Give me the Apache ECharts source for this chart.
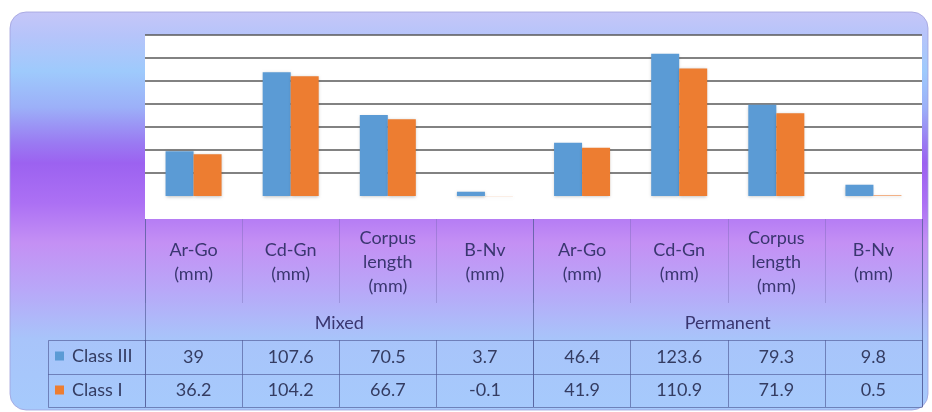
<!DOCTYPE html>
<html>
<head>
<meta charset="utf-8">
<title>Mandibular measurements</title>
<script src="https://cdn.jsdelivr.net/npm/echarts@6/dist/echarts.min.js"></script>
<style>
  html, body { margin: 0; padding: 0; background: #ffffff; }
  #chart { width: 932px; height: 412px; }
</style>
</head>
<body>
<div id="chart"></div>
<script>
// Measurements per dentition stage
const categories = [
  'Ar-Go\n(mm)', 'Cd-Gn\n(mm)', 'Corpus\nlength\n(mm)', 'B-Nv\n(mm)',
  'Ar-Go\n(mm)', 'Cd-Gn\n(mm)', 'Corpus\nlength\n(mm)', 'B-Nv\n(mm)'
];
const groups = ['Mixed', 'Permanent'];
const seriesNames = ['Class III', 'Class I'];
const classIII = [39, 107.6, 70.5, 3.7, 46.4, 123.6, 79.3, 9.8];
const classI = [36.2, 104.2, 66.7, -0.1, 41.9, 110.9, 71.9, 0.5];
const yTicks = { min: -20, max: 140, step: 20 };

// Layout of the plot and the data table below it
const plot = { left: 145, right: 922, top: 35, bottom: 219 };
const rowLine1 = 340, rowLine2 = 374, tableBottom = 407, legendLeft = 48;

const blue = '#5b9bd5';
const orange = '#ed7d31';
const headerColor = '#3a3670';
const valueColor = '#343c62';
const tableLine = 'rgba(80,90,150,0.65)';
const fontFamily = 'Lato, "Open Sans", sans-serif';
const fontSize = 18;

const chart = echarts.init(document.getElementById('chart'));

// grid lines: hide the ones at -20 and 0, draw the rest
const gridColors = [];
for (let v = yTicks.min; v <= yTicks.max; v += yTicks.step) {
  gridColors.push(v <= 0 ? 'rgba(0,0,0,0)' : '#585858');
}

const offsetOf = y => y - plot.bottom;

const option = {
  animation: false,
  graphic: [
    {
      type: 'rect',
      z: -100,
      silent: true,
      shape: { x: 10, y: 12, width: 918, height: 398, r: 16 },
      style: {
        fill: new echarts.graphic.LinearGradient(0, 0, 0, 1, [
          { offset: 0.00, color: '#c6c6f8' },
          { offset: 0.06, color: '#b6c4fa' },
          { offset: 0.15, color: '#9ecafc' },
          { offset: 0.24, color: '#9cb0f8' },
          { offset: 0.33, color: '#9a7af2' },
          { offset: 0.38, color: '#9c62f0' },
          { offset: 0.48, color: '#ac70f4' },
          { offset: 0.58, color: '#c490f4' },
          { offset: 0.70, color: '#b8a8f8' },
          { offset: 0.82, color: '#a8c4fa' },
          { offset: 1.00, color: '#a6cafc' }
        ]),
        stroke: 'rgba(160,160,220,0.8)',
        lineWidth: 1
      }
    },
    // legend cell borders to the left of the data rows
    {
      type: 'polyline',
      z: 50,
      silent: true,
      shape: { points: [[plot.left, rowLine1 + 0.5], [legendLeft + 0.5, rowLine1 + 0.5], [legendLeft + 0.5, tableBottom + 0.5], [plot.left, tableBottom + 0.5]] },
      style: { stroke: tableLine, lineWidth: 1, fill: null }
    },
    {
      type: 'line',
      z: 50,
      silent: true,
      shape: { x1: legendLeft, y1: rowLine2 + 0.5, x2: plot.left, y2: rowLine2 + 0.5 },
      style: { stroke: tableLine, lineWidth: 1 }
    }
  ],
  grid: {
    left: plot.left,
    top: plot.top,
    width: plot.right - plot.left,
    height: plot.bottom - plot.top,
    show: true,
    backgroundColor: '#ffffff',
    borderWidth: 0
  },
  legend: {
    orient: 'vertical',
    left: 55,
    top: 346,
    padding: 0,
    itemWidth: 9,
    itemHeight: 9,
    itemGap: 14,
    icon: 'rect',
    data: seriesNames,
    textStyle: { fontFamily, fontSize, color: valueColor, lineHeight: 20, padding: [0, 0, 0, 3] }
  },
  xAxis: [
    {
      // header row: measurement names
      type: 'category',
      data: categories,
      axisLine: { show: false, onZero: false },
      axisTick: { show: true, length: 84, lineStyle: { color: 'rgba(110,100,170,0.35)', width: 1 } },
      axisLabel: {
        interval: 0, margin: 43, verticalAlign: 'middle', align: 'center',
        fontFamily, fontSize, lineHeight: 24, color: headerColor
      }
    },
    {
      // group row: dentition stage
      type: 'category',
      data: groups,
      position: 'bottom',
      axisLine: { show: false, onZero: false },
      axisTick: { show: true, length: tableBottom - plot.bottom, lineStyle: { color: tableLine, width: 1 } },
      axisLabel: { interval: 0, margin: 104, verticalAlign: 'middle', fontFamily, fontSize, color: headerColor }
    },
    {
      // Class III values row
      type: 'category',
      data: classIII.map(String),
      position: 'bottom',
      offset: offsetOf(rowLine1),
      axisLine: { show: true, onZero: false, lineStyle: { color: tableLine, width: 1 } },
      axisTick: { show: true, length: tableBottom - rowLine1, lineStyle: { color: tableLine, width: 1 } },
      axisLabel: { interval: 0, margin: 17, verticalAlign: 'middle', fontFamily, fontSize, color: valueColor }
    },
    {
      // Class I values row
      type: 'category',
      data: classI.map(String),
      position: 'bottom',
      offset: offsetOf(rowLine2),
      axisLine: { show: true, onZero: false, lineStyle: { color: tableLine, width: 1 } },
      axisTick: { show: false },
      axisLabel: { interval: 0, margin: 16, verticalAlign: 'middle', fontFamily, fontSize, color: valueColor }
    },
    {
      // bottom edge of the table
      type: 'category',
      data: categories,
      position: 'bottom',
      offset: offsetOf(tableBottom),
      axisLine: { show: true, onZero: false, lineStyle: { color: tableLine, width: 1 } },
      axisTick: { show: false },
      axisLabel: { show: false }
    }
  ],
  yAxis: {
    type: 'value',
    min: yTicks.min,
    max: yTicks.max,
    interval: yTicks.step,
    axisLine: { show: false },
    axisTick: { show: false },
    axisLabel: { show: false },
    splitLine: { show: true, lineStyle: { color: gridColors, width: 1.5 } }
  },
  series: [
    {
      name: seriesNames[0],
      type: 'bar',
      xAxisIndex: 0,
      data: classIII,
      barWidth: 28,
      barGap: '0%',
      itemStyle: { color: blue, shadowBlur: 3, shadowColor: 'rgba(0,0,0,0.25)', shadowOffsetY: 1 }
    },
    {
      name: seriesNames[1],
      type: 'bar',
      xAxisIndex: 0,
      data: classI,
      barWidth: 28,
      barGap: '0%',
      itemStyle: { color: orange, shadowBlur: 3, shadowColor: 'rgba(0,0,0,0.25)', shadowOffsetY: 1 }
    }
  ]
};

chart.setOption(option);
</script>
</body>
</html>
